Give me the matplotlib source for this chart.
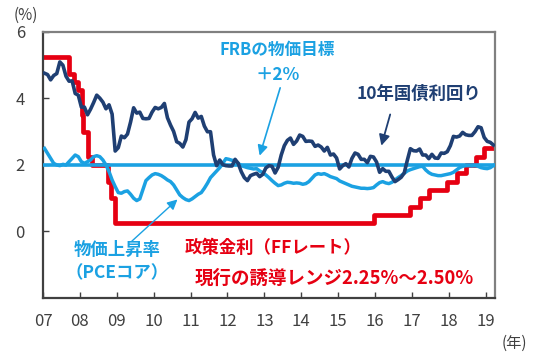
import numpy as np
import matplotlib
matplotlib.use("Agg")
import matplotlib.pyplot as plt

plt.rcParams['font.family'] = ['Noto Sans CJK JP', 'DejaVu Sans']

# 10-year treasury yield, monthly from Jan 2007 (%)
tsy10 = [
    4.76, 4.72, 4.56, 4.69, 4.75, 5.10, 5.00, 4.67, 4.52, 4.53, 4.15, 4.10,
    3.74, 3.74, 3.51, 3.68, 3.88, 4.10, 4.01, 3.89, 3.69, 3.81, 3.53, 2.42,
    2.52, 2.87, 2.82, 2.93, 3.29, 3.72, 3.56, 3.59, 3.40, 3.39, 3.40, 3.59,
    3.73, 3.69, 3.73, 3.85, 3.42, 3.20, 3.01, 2.70, 2.65, 2.54, 2.76, 3.29,
    3.39, 3.58, 3.41, 3.46, 3.17, 3.00, 3.00, 2.30, 1.98, 2.15, 2.01, 1.98,
    1.97, 1.97, 2.17, 2.05, 1.80, 1.62, 1.53, 1.68, 1.72, 1.75, 1.65, 1.72,
    1.91, 1.98, 1.96, 1.76, 1.93, 2.30, 2.58, 2.74, 2.81, 2.62, 2.72, 2.90,
    2.86, 2.71, 2.72, 2.71, 2.56, 2.60, 2.54, 2.42, 2.53, 2.30, 2.33, 2.21,
    1.88, 1.98, 2.04, 1.94, 2.20, 2.36, 2.32, 2.17, 2.17, 2.07, 2.26, 2.24,
    2.09, 1.78, 1.89, 1.81, 1.81, 1.64, 1.50, 1.56, 1.63, 1.76, 2.14, 2.49,
    2.43, 2.42, 2.48, 2.30, 2.30, 2.19, 2.32, 2.21, 2.20, 2.36, 2.35, 2.40,
    2.58, 2.86, 2.84, 2.87, 2.98, 2.91, 2.89, 2.89, 3.00, 3.15, 3.12, 2.83,
    2.71, 2.68, 2.60,
]

# core PCE inflation, monthly from Jan 2007 (%)
pce_core = [
    2.50, 2.35, 2.20, 2.05, 2.00, 1.98, 2.02, 2.00, 2.10, 2.20, 2.30, 2.25,
    2.10, 2.05, 2.10, 2.15, 2.25, 2.28, 2.25, 2.15, 2.00, 1.80, 1.55, 1.35,
    1.17, 1.15, 1.20, 1.22, 1.12, 1.00, 0.93, 0.98, 1.25, 1.53, 1.62, 1.70,
    1.74, 1.72, 1.68, 1.62, 1.55, 1.50, 1.40, 1.25, 1.10, 1.02, 0.96, 0.93,
    0.98, 1.05, 1.12, 1.17, 1.30, 1.45, 1.62, 1.72, 1.82, 1.92, 2.05, 2.19,
    2.17, 2.14, 2.13, 2.05, 1.98, 1.95, 1.92, 1.90, 1.88, 1.89, 1.82, 1.77,
    1.70, 1.62, 1.53, 1.45, 1.38, 1.40, 1.45, 1.48, 1.47, 1.45, 1.46, 1.45,
    1.42, 1.44, 1.50, 1.60, 1.70, 1.74, 1.72, 1.74, 1.70, 1.65, 1.62, 1.59,
    1.52, 1.48, 1.44, 1.40, 1.36, 1.34, 1.32, 1.30, 1.30, 1.29, 1.30, 1.32,
    1.40, 1.47, 1.50, 1.46, 1.44, 1.48, 1.55, 1.62, 1.68, 1.75, 1.82, 1.86,
    1.89, 1.92, 1.95, 1.96, 1.85, 1.77, 1.72, 1.70, 1.68, 1.68, 1.70, 1.72,
    1.74, 1.78, 1.85, 1.92, 1.96, 1.98, 1.98, 1.97, 1.98, 1.96, 1.92, 1.90,
    1.89, 1.92, 1.98,
]

# FF rate target (upper bound), change dates as decimal years
ff_dates = [2007.0, 2007.71, 2007.83, 2007.95, 2008.06, 2008.08, 2008.21,
            2008.33, 2008.77, 2008.83, 2008.96, 2015.96, 2016.96, 2017.21,
            2017.46, 2017.96, 2018.21, 2018.46, 2018.73, 2018.96, 2019.25]
ff_rate = [5.25, 4.75, 4.50, 4.25, 3.50, 3.00, 2.25, 2.00, 1.50, 1.00, 0.25,
           0.50, 0.75, 1.00, 1.25, 1.50, 1.75, 2.00, 2.25, 2.50, 2.50]

target = 2.0
years = list(range(2007, 2020))
year_labels = ['%02d' % (y % 100) for y in years]

NAVY = '#1F3F73'
SKY = '#1BA1E2'
RED = '#E60012'

t = 2007 + np.arange(len(tsy10)) / 12 + 0.04
t2 = 2007 + np.arange(len(pce_core)) / 12 + 0.04

fig = plt.figure(figsize=(5.36, 3.55), dpi=100)
ax = fig.add_axes([0.0802, 0.1606, 0.8433, 0.7493])

ax.step(ff_dates, ff_rate, where='post', color=RED, lw=3.4, zorder=2)
ax.plot([2007, 2019.25], [target, target], color=SKY, lw=2.6, zorder=3)
ax.plot(t2, pce_core, color=SKY, lw=2.5, zorder=4)
ax.plot(t, tsy10, color=NAVY, lw=2.6, zorder=5)

ax.set_xlim(2007, 2019.25)
ax.set_ylim(-2, 6)
ax.set_xticks(years)
ax.set_xticklabels(year_labels)
ax.set_yticks([0, 2, 4, 6])
ax.tick_params(direction='in', length=4, width=1, colors='#404040',
               labelsize=12)
ax.tick_params(axis='y', pad=13)
ax.tick_params(axis='x', pad=11)

for s in ['left', 'bottom']:
    ax.spines[s].set_color('#404040')
    ax.spines[s].set_linewidth(1.6)
for s in ['top', 'right']:
    ax.spines[s].set_color('#808080')
    ax.spines[s].set_linewidth(1.6)

fig.text(0.0485, 0.958, '(%)', fontsize=11, color='#404040',
         ha='center', va='center')
fig.text(0.959, 0.034, '(年)', fontsize=11, color='#404040',
         ha='center', va='center')

ax.text(2013.35, 5.45, 'FRBの物価目標', color=SKY, fontsize=12,
        fontweight='bold', ha='center', va='center')
ax.text(2013.35, 4.7, '＋2%', color=SKY, fontsize=12.5,
        fontweight='bold', ha='center', va='center')
ax.annotate('', xy=(2012.85, 2.2), xytext=(2013.45, 4.4),
            arrowprops=dict(arrowstyle='-|>', color=SKY, lw=1.2,
                            mutation_scale=15))

ax.text(2017.2, 4.15, '10年国債利回り', color=NAVY, fontsize=12.5,
        fontweight='bold', ha='center', va='center')
ax.annotate('', xy=(2016.15, 2.5), xytext=(2016.43, 3.6),
            arrowprops=dict(arrowstyle='-|>', color=NAVY, lw=1.3,
                            mutation_scale=16))

ax.text(2009.0, -0.55, '物価上昇率', color=SKY, fontsize=12.5,
        fontweight='bold', ha='center', va='center')
ax.text(2009.0, -1.25, '（PCEコア）', color=SKY, fontsize=12.5,
        fontweight='bold', ha='center', va='center')
ax.annotate('', xy=(2010.7, 1.02), xytext=(2009.35, -0.35),
            arrowprops=dict(arrowstyle='-|>', color=SKY, lw=1.0,
                            mutation_scale=15))

ax.text(2010.85, -0.5, '政策金利（FFレート）', color=RED, fontsize=12.5,
        fontweight='bold', ha='left', va='center')
ax.text(2011.1, -1.4, '現行の誘導レンジ2.25%～2.50%', color=RED,
        fontsize=13.3, fontweight='bold', ha='left', va='center')

fig.savefig('out.png', dpi=100)
